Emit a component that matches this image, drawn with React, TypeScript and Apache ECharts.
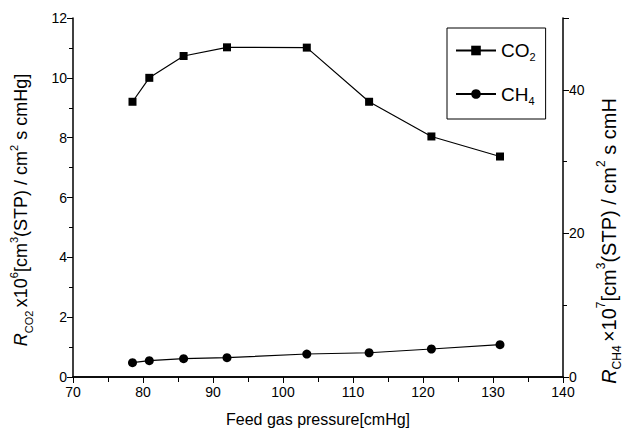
import React, { useEffect, useRef } from "react";
import * as echarts from "echarts";

const pressure = [78.5, 80.9, 85.8, 92.0, 103.4, 112.3, 121.2, 131.0];
const co2Values = [9.2, 10.0, 10.73, 11.02, 11.01, 9.2, 8.04, 7.37];
const ch4Values = [2.0, 2.27, 2.55, 2.69, 3.2, 3.38, 3.9, 4.5];
const seriesNames = ["CO2", "CH4"];

const FONT = "Liberation Sans";

function richFor(size: number) {
  const small = Math.round(size * 0.6);
  return {
    r: { fontFamily: FONT, fontSize: size, fontStyle: "italic", color: "#000", lineHeight: size + 8 },
    sub: { fontFamily: FONT, fontSize: small, color: "#000", lineHeight: small + 2, verticalAlign: "bottom" },
    sup: { fontFamily: FONT, fontSize: small, color: "#000", lineHeight: small + 2, verticalAlign: "top" },
    t: { fontFamily: FONT, fontSize: size, color: "#000", lineHeight: size + 8 },
  };
}

export default function App() {
  const ref = useRef<HTMLDivElement>(null);
  useEffect(() => {
    document.body.style.margin = "0";
    const chart = echarts.init(ref.current!, null, { renderer: "svg" });
    const co2 = pressure.map((p, i) => [p, co2Values[i]]);
    const ch4 = pressure.map((p, i) => [p, ch4Values[i]]);
    chart.setOption({
      animation: false,
      backgroundColor: "#fff",
      textStyle: { fontFamily: FONT, color: "#000" },
      grid: { left: 73, right: 61, top: 18, bottom: 59 },
      legend: {
        orient: "vertical",
        left: 447,
        top: 28,
        padding: [13, 10, 13, 8],
        itemGap: 22,
        itemWidth: 40,
        itemHeight: 12,
        borderColor: "#000",
        borderWidth: 1,
        data: seriesNames,
        formatter: (n: string) => (n === "CO2" ? "{t|CO}{s|2}" : "{t|CH}{s|4}"),
        textStyle: {
          color: "#000",
          rich: {
            t: { fontFamily: FONT, fontSize: 19, color: "#000", lineHeight: 24 },
            s: { fontFamily: FONT, fontSize: 11, color: "#000", lineHeight: 12, verticalAlign: "bottom" },
          },
        },
      },
      xAxis: [
        {
          type: "value",
          min: 70,
          max: 140,
          interval: 10,
          position: "bottom",
          name: "Feed gas pressure[cmHg]",
          nameLocation: "middle",
          nameGap: 34,
          nameTextStyle: { fontFamily: FONT, fontSize: 16, color: "#000" },
          axisLine: { lineStyle: { color: "#000", width: 1.5 } },
          axisTick: { inside: false, length: 6, lineStyle: { color: "#000" } },
          minorTick: { show: true, splitNumber: 2, length: 4, lineStyle: { color: "#000" } },
          axisLabel: { fontFamily: FONT, fontSize: 14, color: "#000", margin: 8 },
          splitLine: { show: false },
        },
        {
          type: "value",
          min: 70,
          max: 140,
          interval: 5,
          position: "top",
          axisLine: { lineStyle: { color: "#000", width: 1.5 } },
          axisTick: { inside: true, length: 5, lineStyle: { color: "#000" } },
          axisLabel: { show: false },
          splitLine: { show: false },
        },
      ],
      yAxis: [
        {
          type: "value",
          min: 0,
          max: 12,
          interval: 2,
          position: "left",
          axisLine: { lineStyle: { color: "#000", width: 1.5 } },
          axisTick: { inside: false, length: 6, lineStyle: { color: "#000" } },
          minorTick: { show: true, splitNumber: 2, length: 4, lineStyle: { color: "#000" } },
          axisLabel: { fontFamily: FONT, fontSize: 14, color: "#000", margin: 6 },
          splitLine: { show: false },
        },
        {
          type: "value",
          min: 0,
          max: 50,
          interval: 20,
          position: "right",
          axisLine: { lineStyle: { color: "#000", width: 1.5 } },
          axisTick: { inside: false, length: 6, lineStyle: { color: "#000" } },
          minorTick: { show: true, splitNumber: 2, length: 4, lineStyle: { color: "#000" } },
          axisLabel: { fontFamily: FONT, fontSize: 14, color: "#000", margin: 6, showMaxLabel: false },
          splitLine: { show: false },
        },
      ],
      graphic: [
        {
          type: "text",
          x: 21,
          y: 210,
          rotation: Math.PI / 2,
          style: {
            text: "{r|R}{sub|CO2} {t|x10}{sup|6}{t|[cm}{sup|3}{t|(STP) / cm}{sup|2}{t| s cmHg]}",
            rich: richFor(18),
            align: "center",
            verticalAlign: "middle",
          },
        },
        {
          type: "text",
          x: 609,
          y: 241,
          rotation: Math.PI / 2,
          style: {
            text: "{r|R}{sub|CH4} {t|×10}{sup|7}{t|[cm}{sup|3}{t|(STP) / cm}{sup|2}{t| s cmH}",
            rich: richFor(20),
            align: "center",
            verticalAlign: "middle",
          },
        },
      ],
      series: [
        {
          name: "CO2",
          type: "line",
          xAxisIndex: 0,
          yAxisIndex: 0,
          data: co2,
          symbol: "rect",
          symbolSize: 8,
          itemStyle: { color: "#000" },
          lineStyle: { color: "#000", width: 1.2 },
        },
        {
          name: "CH4",
          type: "line",
          xAxisIndex: 0,
          yAxisIndex: 1,
          data: ch4,
          symbol: "circle",
          symbolSize: 9,
          itemStyle: { color: "#000" },
          lineStyle: { color: "#000", width: 1.2 },
        },
      ],
    });
    return () => chart.dispose();
  }, []);
  return <div ref={ref} style={{ position: "fixed", left: 0, top: 0, width: 624, height: 436 }} />;
}
